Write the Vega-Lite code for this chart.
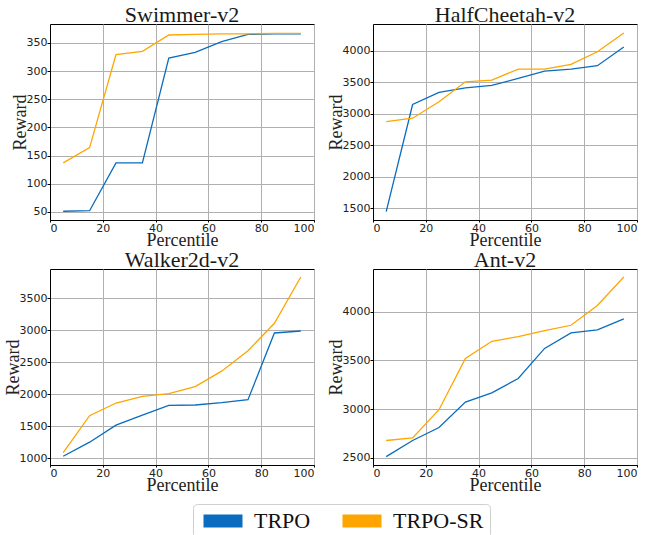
{
  "$schema": "https://vega.github.io/schema/vega-lite/v6.json",
  "background": "white",
  "padding": {"left": 3, "top": 3, "right": 5, "bottom": 5},
  "autosize": {"type": "pad"},
  "bounds": "flush",
  "spacing": {"row": 49, "column": 59},
  "columns": 2,
  "datasets": {
    "runs": [
      {"env": "Swimmer-v2", "algo": "TRPO", "pct": 5, "reward": 51},
      {"env": "Swimmer-v2", "algo": "TRPO", "pct": 15, "reward": 52},
      {"env": "Swimmer-v2", "algo": "TRPO", "pct": 25, "reward": 137},
      {"env": "Swimmer-v2", "algo": "TRPO", "pct": 35, "reward": 137},
      {"env": "Swimmer-v2", "algo": "TRPO", "pct": 45, "reward": 323},
      {"env": "Swimmer-v2", "algo": "TRPO", "pct": 55, "reward": 333},
      {"env": "Swimmer-v2", "algo": "TRPO", "pct": 65, "reward": 352},
      {"env": "Swimmer-v2", "algo": "TRPO", "pct": 75, "reward": 365},
      {"env": "Swimmer-v2", "algo": "TRPO", "pct": 85, "reward": 366},
      {"env": "Swimmer-v2", "algo": "TRPO", "pct": 95, "reward": 366},
      {"env": "Swimmer-v2", "algo": "TRPO-SR", "pct": 5, "reward": 137},
      {"env": "Swimmer-v2", "algo": "TRPO-SR", "pct": 15, "reward": 164},
      {"env": "Swimmer-v2", "algo": "TRPO-SR", "pct": 25, "reward": 329},
      {"env": "Swimmer-v2", "algo": "TRPO-SR", "pct": 35, "reward": 335},
      {"env": "Swimmer-v2", "algo": "TRPO-SR", "pct": 45, "reward": 364},
      {"env": "Swimmer-v2", "algo": "TRPO-SR", "pct": 55, "reward": 365},
      {"env": "Swimmer-v2", "algo": "TRPO-SR", "pct": 65, "reward": 366},
      {"env": "Swimmer-v2", "algo": "TRPO-SR", "pct": 75, "reward": 366},
      {"env": "Swimmer-v2", "algo": "TRPO-SR", "pct": 85, "reward": 367},
      {"env": "Swimmer-v2", "algo": "TRPO-SR", "pct": 95, "reward": 367},
      {"env": "HalfCheetah-v2", "algo": "TRPO", "pct": 5, "reward": 1447},
      {"env": "HalfCheetah-v2", "algo": "TRPO", "pct": 15, "reward": 3147},
      {"env": "HalfCheetah-v2", "algo": "TRPO", "pct": 25, "reward": 3338},
      {"env": "HalfCheetah-v2", "algo": "TRPO", "pct": 35, "reward": 3412},
      {"env": "HalfCheetah-v2", "algo": "TRPO", "pct": 45, "reward": 3449},
      {"env": "HalfCheetah-v2", "algo": "TRPO", "pct": 55, "reward": 3560},
      {"env": "HalfCheetah-v2", "algo": "TRPO", "pct": 65, "reward": 3677},
      {"env": "HalfCheetah-v2", "algo": "TRPO", "pct": 75, "reward": 3709},
      {"env": "HalfCheetah-v2", "algo": "TRPO", "pct": 85, "reward": 3762},
      {"env": "HalfCheetah-v2", "algo": "TRPO", "pct": 95, "reward": 4058},
      {"env": "HalfCheetah-v2", "algo": "TRPO-SR", "pct": 5, "reward": 2877},
      {"env": "HalfCheetah-v2", "algo": "TRPO-SR", "pct": 15, "reward": 2930},
      {"env": "HalfCheetah-v2", "algo": "TRPO-SR", "pct": 25, "reward": 3190},
      {"env": "HalfCheetah-v2", "algo": "TRPO-SR", "pct": 35, "reward": 3507},
      {"env": "HalfCheetah-v2", "algo": "TRPO-SR", "pct": 45, "reward": 3534},
      {"env": "HalfCheetah-v2", "algo": "TRPO-SR", "pct": 55, "reward": 3709},
      {"env": "HalfCheetah-v2", "algo": "TRPO-SR", "pct": 65, "reward": 3709},
      {"env": "HalfCheetah-v2", "algo": "TRPO-SR", "pct": 75, "reward": 3783},
      {"env": "HalfCheetah-v2", "algo": "TRPO-SR", "pct": 85, "reward": 3984},
      {"env": "HalfCheetah-v2", "algo": "TRPO-SR", "pct": 95, "reward": 4281},
      {"env": "Walker2d-v2", "algo": "TRPO", "pct": 5, "reward": 1031},
      {"env": "Walker2d-v2", "algo": "TRPO", "pct": 15, "reward": 1251},
      {"env": "Walker2d-v2", "algo": "TRPO", "pct": 25, "reward": 1518},
      {"env": "Walker2d-v2", "algo": "TRPO", "pct": 35, "reward": 1675},
      {"env": "Walker2d-v2", "algo": "TRPO", "pct": 45, "reward": 1826},
      {"env": "Walker2d-v2", "algo": "TRPO", "pct": 55, "reward": 1832},
      {"env": "Walker2d-v2", "algo": "TRPO", "pct": 65, "reward": 1868},
      {"env": "Walker2d-v2", "algo": "TRPO", "pct": 75, "reward": 1915},
      {"env": "Walker2d-v2", "algo": "TRPO", "pct": 85, "reward": 2956},
      {"env": "Walker2d-v2", "algo": "TRPO", "pct": 95, "reward": 2987},
      {"env": "Walker2d-v2", "algo": "TRPO-SR", "pct": 5, "reward": 1089},
      {"env": "Walker2d-v2", "algo": "TRPO-SR", "pct": 15, "reward": 1664},
      {"env": "Walker2d-v2", "algo": "TRPO-SR", "pct": 25, "reward": 1863},
      {"env": "Walker2d-v2", "algo": "TRPO-SR", "pct": 35, "reward": 1968},
      {"env": "Walker2d-v2", "algo": "TRPO-SR", "pct": 45, "reward": 2009},
      {"env": "Walker2d-v2", "algo": "TRPO-SR", "pct": 55, "reward": 2119},
      {"env": "Walker2d-v2", "algo": "TRPO-SR", "pct": 65, "reward": 2360},
      {"env": "Walker2d-v2", "algo": "TRPO-SR", "pct": 75, "reward": 2679},
      {"env": "Walker2d-v2", "algo": "TRPO-SR", "pct": 85, "reward": 3108},
      {"env": "Walker2d-v2", "algo": "TRPO-SR", "pct": 95, "reward": 3830},
      {"env": "Ant-v2", "algo": "TRPO", "pct": 5, "reward": 2510},
      {"env": "Ant-v2", "algo": "TRPO", "pct": 15, "reward": 2676},
      {"env": "Ant-v2", "algo": "TRPO", "pct": 25, "reward": 2810},
      {"env": "Ant-v2", "algo": "TRPO", "pct": 35, "reward": 3072},
      {"env": "Ant-v2", "algo": "TRPO", "pct": 45, "reward": 3166},
      {"env": "Ant-v2", "algo": "TRPO", "pct": 55, "reward": 3314},
      {"env": "Ant-v2", "algo": "TRPO", "pct": 65, "reward": 3624},
      {"env": "Ant-v2", "algo": "TRPO", "pct": 75, "reward": 3783},
      {"env": "Ant-v2", "algo": "TRPO", "pct": 85, "reward": 3814},
      {"env": "Ant-v2", "algo": "TRPO", "pct": 95, "reward": 3928},
      {"env": "Ant-v2", "algo": "TRPO-SR", "pct": 5, "reward": 2676},
      {"env": "Ant-v2", "algo": "TRPO-SR", "pct": 15, "reward": 2703},
      {"env": "Ant-v2", "algo": "TRPO-SR", "pct": 25, "reward": 2993},
      {"env": "Ant-v2", "algo": "TRPO-SR", "pct": 35, "reward": 3521},
      {"env": "Ant-v2", "algo": "TRPO-SR", "pct": 45, "reward": 3697},
      {"env": "Ant-v2", "algo": "TRPO-SR", "pct": 55, "reward": 3745},
      {"env": "Ant-v2", "algo": "TRPO-SR", "pct": 65, "reward": 3807},
      {"env": "Ant-v2", "algo": "TRPO-SR", "pct": 75, "reward": 3862},
      {"env": "Ant-v2", "algo": "TRPO-SR", "pct": 85, "reward": 4066},
      {"env": "Ant-v2", "algo": "TRPO-SR", "pct": 95, "reward": 4359}
    ]
  },
  "concat": [
    {
      "title": "Swimmer-v2",
      "width": 264, "height": 196,
      "data": {"name": "runs"},
      "transform": [{"filter": "datum.env === 'Swimmer-v2'"}],
      "mark": {"type": "line", "strokeWidth": 1.3},
      "encoding": {
        "x": {"field": "pct", "type": "quantitative", "title": "Percentile", "scale": {"domain": [0, 100], "nice": false}, "axis": {"values": [0, 20, 40, 60, 80, 100]}},
        "y": {"field": "reward", "type": "quantitative", "title": "Reward", "scale": {"domain": [35.5, 383.5], "nice": false, "zero": false}, "axis": {"values": [50, 100, 150, 200, 250, 300, 350]}},
        "color": {"field": "algo", "type": "nominal", "scale": {"domain": ["TRPO", "TRPO-SR"], "range": ["#0a6cbf", "#ffa500"]},
          "legend": {"title": null, "orient": "none", "legendX": 143, "legendY": 480, "direction": "horizontal",
            "encode": {"symbols": {"update": {"fill": {"scale": "color", "field": "value"}, "fillOpacity": {"value": 1}, "strokeWidth": {"value": 0}, "opacity": {"value": 1}}}}}}
      }
    },
    {
      "title": "HalfCheetah-v2",
      "width": 264, "height": 196,
      "data": {"name": "runs"},
      "transform": [{"filter": "datum.env === 'HalfCheetah-v2'"}],
      "mark": {"type": "line", "strokeWidth": 1.3},
      "encoding": {
        "x": {"field": "pct", "type": "quantitative", "title": "Percentile", "scale": {"domain": [0, 100], "nice": false}, "axis": {"values": [0, 20, 40, 60, 80, 100]}},
        "y": {"field": "reward", "type": "quantitative", "title": "Reward", "scale": {"domain": [1315, 4424], "nice": false, "zero": false}, "axis": {"values": [1500, 2000, 2500, 3000, 3500, 4000]}},
        "color": {"field": "algo", "type": "nominal", "scale": {"domain": ["TRPO", "TRPO-SR"], "range": ["#0a6cbf", "#ffa500"]}, "legend": null}
      }
    },
    {
      "title": "Walker2d-v2",
      "width": 264, "height": 196,
      "data": {"name": "runs"},
      "transform": [{"filter": "datum.env === 'Walker2d-v2'"}],
      "mark": {"type": "line", "strokeWidth": 1.3},
      "encoding": {
        "x": {"field": "pct", "type": "quantitative", "title": "Percentile", "scale": {"domain": [0, 100], "nice": false}, "axis": {"values": [0, 20, 40, 60, 80, 100]}},
        "y": {"field": "reward", "type": "quantitative", "title": "Reward", "scale": {"domain": [895, 3955], "nice": false, "zero": false}, "axis": {"values": [1000, 1500, 2000, 2500, 3000, 3500]}},
        "color": {"field": "algo", "type": "nominal", "scale": {"domain": ["TRPO", "TRPO-SR"], "range": ["#0a6cbf", "#ffa500"]}, "legend": null}
      }
    },
    {
      "title": "Ant-v2",
      "width": 264, "height": 196,
      "data": {"name": "runs"},
      "transform": [{"filter": "datum.env === 'Ant-v2'"}],
      "mark": {"type": "line", "strokeWidth": 1.3},
      "encoding": {
        "x": {"field": "pct", "type": "quantitative", "title": "Percentile", "scale": {"domain": [0, 100], "nice": false}, "axis": {"values": [0, 20, 40, 60, 80, 100]}},
        "y": {"field": "reward", "type": "quantitative", "title": "Reward", "scale": {"domain": [2424, 4441], "nice": false, "zero": false}, "axis": {"values": [2500, 3000, 3500, 4000]}},
        "color": {"field": "algo", "type": "nominal", "scale": {"domain": ["TRPO", "TRPO-SR"], "range": ["#0a6cbf", "#ffa500"]}, "legend": null}
      }
    }
  ],
  "resolve": {"scale": {"x": "independent", "y": "independent", "color": "shared"}},
  "config": {
    "view": {"stroke": "black", "strokeWidth": 1},
    "title": {"font": "Liberation Serif", "fontSize": 22, "fontWeight": "normal", "color": "#1a1a1a", "offset": -3, "anchor": "middle"},
    "axis": {
      "labelFont": "DejaVu Sans", "labelFontSize": 11, "labelColor": "#222222", "format": "d",
      "titleFont": "Liberation Serif", "titleFontSize": 18, "titleFontWeight": "normal", "titleColor": "#222222",
      "domainColor": "black", "tickColor": "black",
      "gridColor": "#b0b0b0", "gridWidth": 1, "gridOpacity": 1
    },
    "axisX": {"tickSize": 2, "labelPadding": 0, "titlePadding": -2},
    "axisY": {"tickSize": 3, "labelPadding": 0, "titlePadding": -3},
    "legend": {
      "labelFont": "Liberation Serif", "labelFontSize": 22, "labelColor": "#111111",
      "symbolType": "M-1,-1H5V1H-1Z", "symbolSize": 169, "symbolStrokeWidth": 0,
      "strokeColor": "#d0d0d0", "cornerRadius": 4, "padding": 6,
      "columnPadding": 27, "labelOffset": 33, "fillColor": "white"
    }
  }
}
